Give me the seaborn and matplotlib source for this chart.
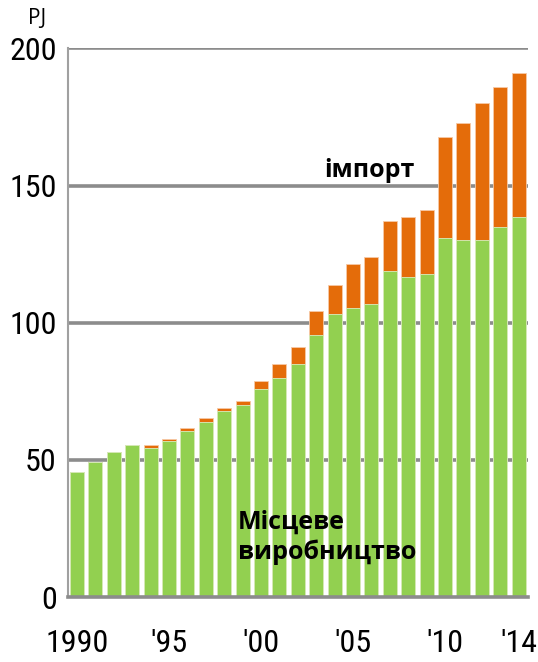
import matplotlib
matplotlib.use("Agg")
import matplotlib.pyplot as plt
import pandas as pd
import seaborn as sns

years = list(range(1990, 2015))
local = [45.5, 49.1, 52.8, 55.3, 54.2, 56.8, 60.4, 64.0, 67.7, 69.9, 76.0, 80.0, 84.8,
         95.7, 103.0, 105.5, 106.7, 119.0, 116.5, 117.6, 131.0, 130.0, 130.0, 135.0, 138.6]
imports = [0.0, 0.0, 0.0, 0.0, 1.1, 0.7, 1.1, 1.1, 1.1, 1.4, 2.6, 4.8, 6.2,
           8.7, 10.9, 16.0, 17.1, 18.2, 21.9, 23.3, 36.8, 42.8, 50.0, 51.0, 52.4]
tick_years = {1990: "1990", 1995: "'95", 2000: "'00", 2005: "'05", 2010: "'10", 2014: "'14"}
yticks = [0, 50, 100, 150, 200]

GREEN = "#92D050"
ORANGE = "#E46C0A"
GREY = "#8C8C8C"


def main():
    df = pd.DataFrame({"year": [str(y) for y in years], "local": local, "imports": imports})
    df["total"] = df["local"] + df["imports"]

    sns.set_style("white")
    num_font = ["Roboto Condensed", "Liberation Sans Narrow", "DejaVu Sans"]
    txt_font = ["Open Sans", "DejaVu Sans"]

    fig = plt.figure(figsize=(5.38, 6.62), dpi=100)
    ax = fig.add_axes([0.126, 0.098, 0.855, 0.829])

    order = df["year"].tolist()
    sns.barplot(data=df, x="year", y="total", order=order, color=ORANGE, width=0.76,
                edgecolor="#F6C9A6", linewidth=0.6, saturation=1, ax=ax)
    sns.barplot(data=df, x="year", y="local", order=order, color=GREEN, width=0.76,
                edgecolor="#D8EEC0", linewidth=0.6, saturation=1, ax=ax)

    ax.set_xlim(-0.5, len(years) - 0.5)
    ax.set_ylim(0, 200)
    ax.set_axisbelow(True)
    for v in yticks[1:]:
        ax.axhline(v, color=GREY, lw=2.6, zorder=0)

    ax.set_yticks(yticks)
    ax.set_yticklabels([str(v) for v in yticks], family=num_font, fontstretch="condensed",
                       fontsize=23, color="black")
    pos = [order.index(str(y)) for y in tick_years]
    ax.set_xticks(pos)
    ax.set_xticklabels(list(tick_years.values()), family=num_font, fontstretch="condensed",
                       fontsize=23, color="black")
    ax.set_xticks([i - 0.5 for i in range(len(years) + 1)], minor=True)
    ax.tick_params(axis="x", which="major", length=0, pad=23)
    ax.tick_params(axis="x", which="minor", length=10, width=1.2, color="#A0A0A0")
    ax.tick_params(axis="y", length=4, width=2.6, color=GREY, pad=4)

    ax.set(xlabel=None, ylabel=None)
    for s in ["top", "right"]:
        ax.spines[s].set_visible(False)
    ax.spines["left"].set_color("#A0A0A0")
    ax.spines["left"].set_linewidth(1.5)
    ax.spines["bottom"].set_color(GREY)
    ax.spines["bottom"].set_linewidth(2.6)

    fig.text(0.069, 0.972, "PJ", family=txt_font, fontsize=15, color="black",
             ha="center", va="center")
    ax.text(15.9, 155.4, "імпорт", family=txt_font, fontsize=18, fontweight="bold",
            color="black", ha="center", va="center")
    ax.text(8.74, 21.8, "Місцеве\nвиробництво", family=txt_font, fontsize=18,
            fontweight="bold", color="black", ha="left", va="center", linespacing=1.25)

    fig.savefig("out.png", dpi=100)


if __name__ == "__main__":
    main()
